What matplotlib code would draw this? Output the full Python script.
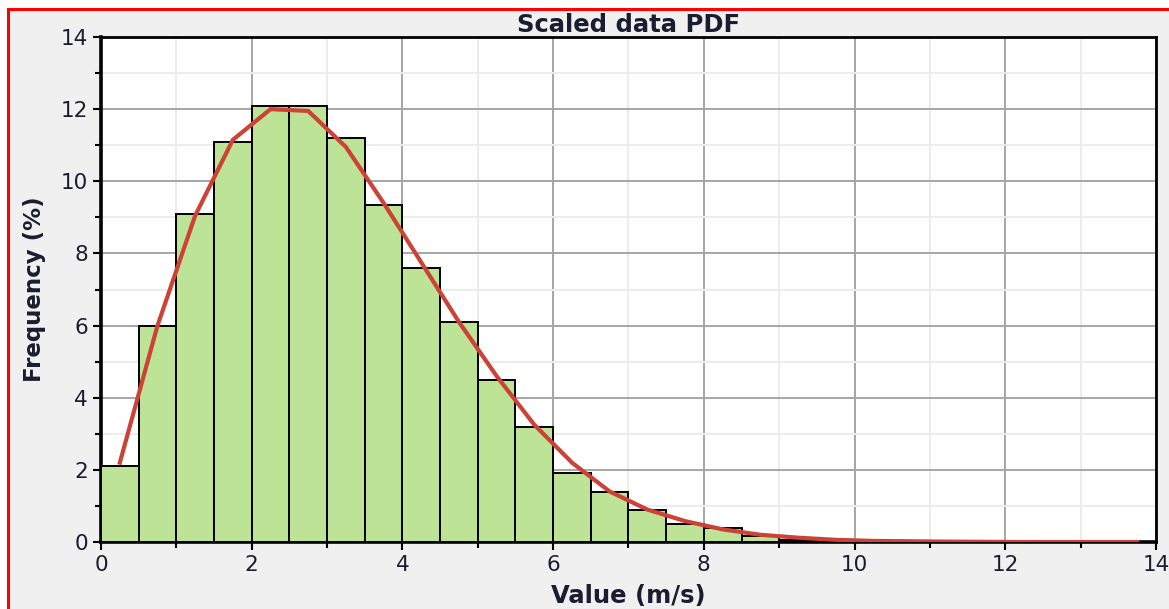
import numpy as np
from matplotlib import pyplot as plt
from matplotlib.patches import Rectangle
from matplotlib.ticker import MultipleLocator

plt.rcParams['font.family'] = ['DejaVu Sans']

# histogram bins (m/s), 0.5 wide
bin_edges = [0.0, 0.5, 1.0, 1.5, 2.0, 2.5, 3.0, 3.5, 4.0, 4.5, 5.0, 5.5, 6.0, 6.5,
             7.0, 7.5, 8.0, 8.5, 9.0, 9.5]
freq_pct = [2.1, 6.0, 9.1, 11.1, 12.1, 12.1, 11.2, 9.35, 7.6, 6.1, 4.5, 3.18, 1.92,
            1.4, 0.89, 0.5, 0.38, 0.16, 0.05, 0.02]

# fitted pdf evaluated at the bin centres
fit_x = [0.25, 0.75, 1.25, 1.75, 2.25, 2.75, 3.25, 3.75, 4.25, 4.75, 5.25, 5.75,
         6.25, 6.75, 7.25, 7.75, 8.25, 8.75, 9.25, 9.75, 10.25, 10.75, 11.25,
         11.75, 12.25, 12.75, 13.25, 13.75]
fit_pct = [2.2, 6.0, 9.05, 11.15, 12.0, 11.95, 10.95, 9.4, 7.75, 6.1, 4.6, 3.25,
           2.2, 1.4, 0.9, 0.58, 0.35, 0.2, 0.12, 0.06, 0.03, 0.02, 0.01, 0.005,
           0.0, 0.0, 0.0, 0.0]

W, H = 1169, 609
fig = plt.figure(figsize=(W / 100, H / 100), dpi=100, facecolor='white')

# panel background with the red outline (kept behind the axes)
fig.patches.append(Rectangle((8 / W, -0.1), 1.2, 1 - 9 / H + 0.1,
                             transform=fig.transFigure, facecolor='#f0f0f0',
                             edgecolor='#ff0000', linewidth=2.2, zorder=-5))

ax = fig.add_axes([101 / W, 1 - 542 / H, (1156 - 101) / W, (542 - 37) / H])
ax.set_facecolor('white')

ax.bar(bin_edges, freq_pct, width=0.5, align='edge', color='#bde396',
       edgecolor='black', linewidth=1.4, zorder=3)
ax.plot(fit_x, fit_pct, color='#cd4236', linewidth=3.0, zorder=4,
        solid_joinstyle='miter')

ax.set_xlim(0, 14)
ax.set_ylim(0, 14)
ax.xaxis.set_major_locator(MultipleLocator(2))
ax.xaxis.set_minor_locator(MultipleLocator(1))
ax.yaxis.set_major_locator(MultipleLocator(2))
ax.yaxis.set_minor_locator(MultipleLocator(1))

ax.grid(which='major', color='#a6a6a6', linewidth=1.4, zorder=1)
ax.grid(which='minor', color='#ececec', linewidth=1.4, zorder=1)
ax.set_axisbelow(True)

for side in ['left', 'bottom', 'top', 'right']:
    ax.spines[side].set_linewidth(2.0)
    ax.spines[side].set_color('black')
ax.spines['bottom'].set_linewidth(2.6)
ax.spines['left'].set_linewidth(2.6)

txt = '#1c1c30'
ax.tick_params(which='major', direction='out', length=6, width=1.5,
               labelsize=15.5, colors='black', labelcolor=txt, pad=3.5)
ax.tick_params(which='minor', direction='out', length=4, width=1.5, colors='black')

ax.set_title('Scaled data PDF', fontsize=17.5, fontweight='bold', color=txt, pad=3)
ax.set_xlabel('Value (m/s)', fontsize=17.5, fontweight='bold', color=txt)
ax.set_ylabel('Frequency (%)', fontsize=16.5, fontweight='bold', color=txt)
ax.xaxis.set_label_coords(0.5, -0.084)
ax.yaxis.set_label_coords(-0.063, 0.5)
ax.yaxis.label.set_va('center')

fig.savefig('out.png', dpi=100)
